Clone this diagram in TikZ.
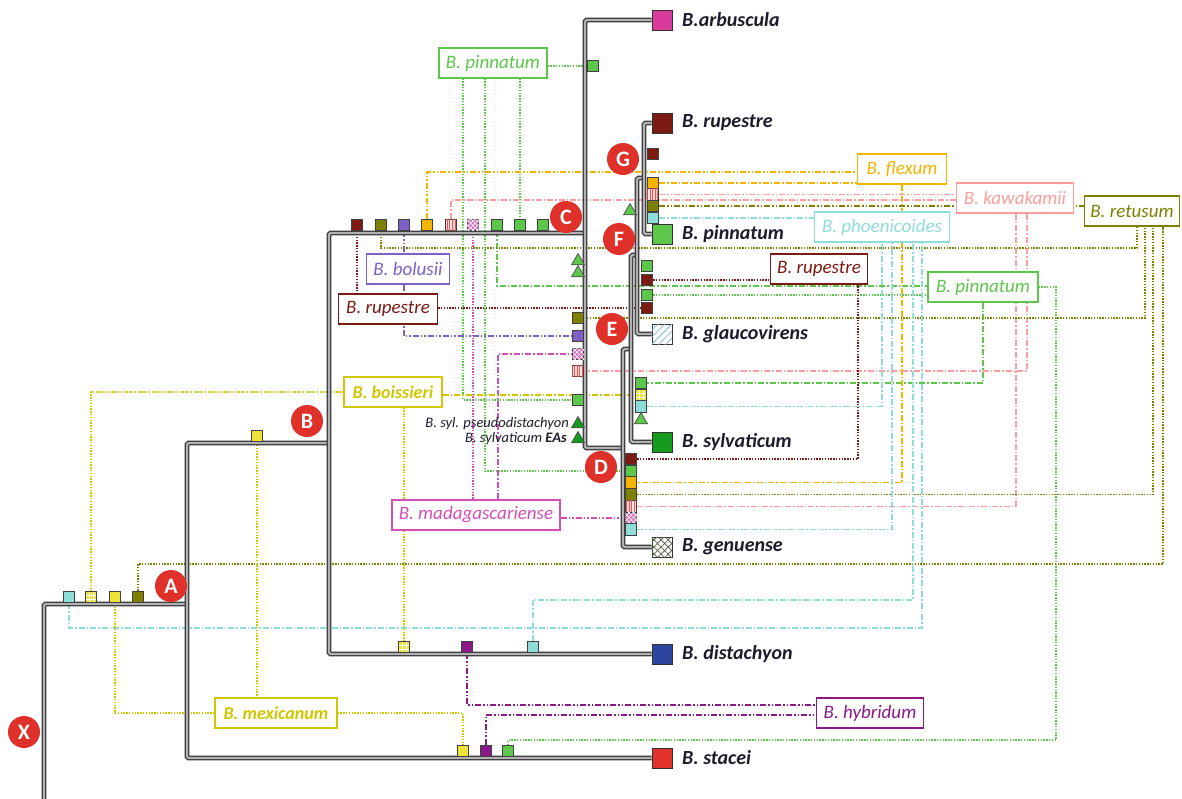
\documentclass[tikz,border=0pt]{standalone}
\usepackage{fontspec}
\setmainfont{Carlito}
\usetikzlibrary{patterns,patterns.meta,backgrounds,shapes.geometric}
\definecolor{cPink}{HTML}{FF9C9C}
\definecolor{cPinkF}{HTML}{FFE2E2}
\definecolor{cOrange}{HTML}{F5B400}
\definecolor{cOlive}{HTML}{808000}
\definecolor{cCyan}{HTML}{8EDDD8}
\definecolor{cGreen}{HTML}{5CC74A}
\definecolor{cDGreen}{HTML}{149B1E}
\definecolor{cRup}{HTML}{7D1A14}
\definecolor{cBol}{HTML}{7E60C6}
\definecolor{cMad}{HTML}{D34FB5}
\definecolor{cYel}{HTML}{D2C600}
\definecolor{cYelF}{HTML}{EEE33A}
\definecolor{cHyb}{HTML}{8B1A88}
\definecolor{cArb}{HTML}{D93A9C}
\definecolor{cDis}{HTML}{2E45A0}
\definecolor{cSta}{HTML}{E0312A}
\definecolor{cNode}{HTML}{E0302A}
\definecolor{cTxt}{HTML}{1C1C2C}
\definecolor{cGla}{HTML}{7FB2E0}
\definecolor{cGen}{HTML}{5E6B50}
\tikzset{
 br/.style={draw=black!80, line width=1.2pt, double=black!30, double distance=2.4pt, rounded corners=1.5pt},
 tip/.style={draw=black!80, line width=1pt, minimum size=20pt, inner sep=0pt, fill=#1},
 mk/.style={draw=black!75, line width=0.8pt, minimum size=11.5pt, inner sep=0pt, fill=#1},
 mkpink/.style={mk=cPinkF, postaction={pattern={Lines[angle=90,distance=2.6pt,line width=0.9pt]}, pattern color=red!70}},
 mkmad/.style={mk=cMad!85, postaction={pattern={Hatch[angle=45,distance=3.2pt,line width=0.6pt]}, pattern color=white}},
 mkyg/.style={mk=cYelF, path picture={
   \draw[white, line width=0.6pt]
     ([xshift=-2pt]path picture bounding box.north) -- ([xshift=-2pt]path picture bounding box.south)
     ([xshift=2pt]path picture bounding box.north) -- ([xshift=2pt]path picture bounding box.south)
     ([yshift=1.8pt]path picture bounding box.west) -- ([yshift=1.8pt]path picture bounding box.east)
     ([yshift=-1.8pt]path picture bounding box.west) -- ([yshift=-1.8pt]path picture bounding box.east);}},
 tri/.style={regular polygon, regular polygon sides=3, draw=black!70, line width=0.7pt, minimum size=15pt, inner sep=0pt, fill=#1},
 taxon/.style={anchor=west, font=\fontsize{20}{20}\selectfont\bfseries\itshape, text=cTxt, inner sep=0pt},
 lbox/.style={draw=#1, text=#1, fill=white, line width=1.3pt, minimum height=30pt, inner sep=0pt, font=\fontsize{19}{19}\selectfont\itshape},
 nd/.style={circle, fill=cNode, text=white, minimum size=32pt, inner sep=0pt, font=\fontsize{22}{22}\selectfont\bfseries},
 dt/.style={draw=#1, line width=1.3pt, dash pattern=on 1.4pt off 1.4pt},
 dd/.style={draw=#1, line width=1.6pt, dash pattern=on 6pt off 2pt on 1.5pt off 2pt},
 ddd/.style={draw=#1, line width=1.6pt, dash pattern=on 6pt off 2pt on 1.5pt off 2pt on 1.5pt off 2pt},
 small/.style={anchor=east, inner sep=0pt, text=cTxt, font=\fontsize{14.5}{14.5}\selectfont\itshape},
}
\begin{document}
\begin{tikzpicture}[x=1pt,y=-1pt]
\useasboundingbox (0,0) rectangle (1182,798);
\begin{scope}[on background layer]
\fill[white] (0,0) rectangle (1182,798);
\end{scope}

% ---------- tips ----------
\node[tip=cArb] (tArb) at (662,20) {};
\node[tip=cRup] (tRup) at (662,123) {};
\node[tip=cGreen] (tPin) at (662,234) {};
\node[tip=white, postaction={pattern={Lines[angle=45,distance=5pt,line width=0.8pt]}, pattern color=cGla}] (tGla) at (662,334) {};
\node[tip=cDGreen] (tSyl) at (662,442) {};
\node[tip=white, postaction={pattern={Hatch[angle=45,distance=5pt,line width=0.8pt]}, pattern color=cGen}] (tGen) at (662,547) {};
\node[tip=cDis] (tDis) at (662,654) {};
\node[tip=cSta] (tSta) at (662,758) {};
\node[taxon] (lArb) at (682,20) {B.arbuscula};
\node[taxon] (lRup) at (682,123) {B. rupestre};
\node[taxon] (lPin) at (682,234) {B. pinnatum};
\node[taxon] (lGla) at (682,334) {B. glaucovirens};
\node[taxon] (lSyl) at (682,442) {B. sylvaticum};
\node[taxon] (lGen) at (682,547) {B. genuense};
\node[taxon] (lDis) at (682,654) {B. distachyon};
\node[taxon] (lSta) at (682,758) {B. stacei};

% ---------- internal nodes ----------
\coordinate (nA) at (187,604);
\coordinate (nB) at (329,443);
\coordinate (nC) at (585,233);
\coordinate (nD) at (623,448);
\coordinate (nE) at (631,349);
\coordinate (nF) at (637,255);
\coordinate (nG) at (644,178);
\coordinate (root) at (44,800);

% ---------- markers ----------
\node[mk=cCyan] (r1) at (69,597) {};
\node[mkyg] (r2) at (91,597) {};
\node[mk=cYelF] (r3) at (115,597) {};
\node[mk=cOlive] (r4) at (138,597) {};
\node[mk=cYelF] (ab1) at (257,436) {};
\node[mk=cRup] (bc1) at (357,225) {};
\node[mk=cOlive] (bc2) at (381,225) {};
\node[mk=cBol] (bc3) at (404,225) {};
\node[mk=cOrange] (bc4) at (427,225) {};
\node[mkpink] (bc5) at (451,225) {};
\node[mkmad] (bc6) at (473,225) {};
\node[mk=cGreen] (bc7) at (497,225) {};
\node[mk=cGreen] (bc8) at (520,225) {};
\node[mk=cGreen] (bc9) at (543,225) {};
\node[mk=cGreen] (arb1) at (593,66) {};
\node[tri=cGreen] (ct1) at (578,261) {};
\node[tri=cGreen] (ct2) at (578,273) {};
\node[mk=cOlive] (c1) at (578,318) {};
\node[mk=cBol] (c2) at (578,336) {};
\node[mkmad] (c3) at (578,354) {};
\node[mkpink] (c4) at (578,371) {};
\node[mk=cGreen] (c5) at (578,400) {};
\node[tri=cDGreen] (ct3) at (578,424) {};
\node[tri=cDGreen] (ct4) at (578,439) {};
\node[small] (lPse) at (569,424) {B. syl. pseudodistachyon};
\node[small] (lEAs) at (567,439) {B. sylvaticum \textbf{EAs}};
\node[mk=cRup] (g0) at (653,154) {};
\node[mk=cOrange] (g1) at (653,183) {};
\node[mkpink] (g2) at (653,194.5) {};
\node[mk=cOlive] (g3) at (653,206) {};
\node[mk=cCyan] (g4) at (653,218) {};
\node[tri=cGreen] (gt) at (630,211) {};
\node[mk=cGreen] (f1) at (647,266) {};
\node[mk=cRup] (f2) at (647,280) {};
\node[mk=cGreen] (f3) at (647,295) {};
\node[mk=cRup] (f4) at (647,308) {};
\node[mk=cGreen] (e1) at (641,383) {};
\node[mkyg] (e2) at (641,395) {};
\node[mk=cCyan] (e3) at (641,406.5) {};
\node[tri=cGreen] (et) at (641,420) {};
\node[mk=cRup] (d1) at (631,459) {};
\node[mk=cGreen] (d2) at (631,471) {};
\node[mk=cOrange] (d3) at (631,482.5) {};
\node[mk=cOlive] (d4) at (631,494.5) {};
\node[mkpink] (d5) at (631,506.5) {};
\node[mkmad] (d6) at (631,518) {};
\node[mk=cCyan] (d7) at (631,529.5) {};
\node[mkyg] (s1) at (404,647) {};
\node[mk=cHyb] (s2) at (467,647) {};
\node[mk=cCyan] (s3) at (533,647) {};
\node[mk=cYelF] (t1) at (463,751) {};
\node[mk=cHyb] (t2) at (486,751) {};
\node[mk=cGreen] (t3) at (508,751) {};

% ---------- label boxes ----------
\node[lbox=cGreen, minimum width=108pt] (pinT) at (493,63) {B. pinnatum};
\node[lbox=cOrange, minimum width=89pt] (flex) at (902,169) {B. flexum};
\node[lbox=cPink, minimum width=117pt] (kaw) at (1015,198) {B. kawakamii};
\node[lbox=cOlive, minimum width=95pt] (ret) at (1132,211) {B. retusum};
\node[lbox=cCyan, minimum width=135pt] (pho) at (882,227) {B. phoenicoides};
\node[lbox=cRup, minimum width=97pt] (rupR) at (819,269) {B. rupestre};
\node[lbox=cGreen, minimum width=110pt] (pinR) at (983,287) {B. pinnatum};
\node[lbox=cBol, minimum width=83pt] (bol) at (408,269) {B. bolusii};
\node[lbox=cRup, minimum width=99pt] (rupL) at (388,309) {B. rupestre};
\node[lbox=cYel, minimum width=98pt, font=\fontsize{18}{18}\selectfont\bfseries\itshape] (boi) at (393,392) {B. boissieri};
\node[lbox=cMad, minimum width=168pt] (mad) at (476,515) {B. madagascariense};
\node[lbox=cYel, minimum width=122pt, font=\fontsize{18}{18}\selectfont\bfseries\itshape] (mex) at (276,713) {B. mexicanum};
\node[lbox=cHyb, minimum width=107pt] (hyb) at (870,713) {B. hybridum};

% ---------- node letters ----------
\node[nd] (cX) at (24,732) {X};
\node[nd] (cA) at (171,586) {A};
\node[nd] (cB) at (307,421) {B};
\node[nd] (cC) at (566,217) {C};
\node[nd] (cG) at (623,159) {G};
\node[nd] (cF) at (619,239) {F};
\node[nd] (cE) at (612,329) {E};
\node[nd] (cD) at (601,467) {D};

% ---------- connectors and tree ----------
\begin{scope}[on background layer]
% pinnatum (top)
\draw[dt=cGreen] (pinT.east |- arb1) -- (arb1.west);
\draw[dt=cGreen] (pinT.south -| 463,0) |- (c5.west);
\draw[dt=cGreen] (pinT.south -| 485,0) |- (d2.west);
\draw[dt=cGreen] (pinT.south -| bc8) -- (bc8.north);
% pinnatum (right)
\draw[dd=cGreen] (bc7.south) |- ([yshift=1pt]pinR.west);
\draw[dt=cGreen] (f3.east) -- (pinR.west |- f3);
\draw[dt=cGreen] (pinR.east) -| (1056,740) -| (t3.north);
\draw[dd=cGreen] (pinR.south) |- (e1.east);
% flexum
\draw[ddd=cOrange] (bc4.north) |- (flex.west |- 0,172);
\draw[dd=cOrange] (g1.east) -- (flex.west |- g1);
\draw[dd=cOrange] (flex.south) |- (d3.east);
% kawakamii
\draw[dd=cPink] (bc5.north) |- (kaw.west |- 0,200);
\draw[ddd=cPink] (g2.east) -- (kaw.west |- g2);
\draw[dd=cPink] (kaw.south -| 1027,0) |- (c4.east);
\draw[dd=cPink] (kaw.south -| 1016,0) |- (d5.east);
% retusum
\draw[ddd=cOlive, line width=2pt] (g3.east) -- (ret.west |- g3);
\draw[dt=cOlive] (bc2.south) |- (1137,248) -- (ret.south -| 1137,0);
\draw[dt=cOlive] (c1.east) -| (ret.south -| 1145,0);
\draw[dt=cOlive] (d4.east) -| (ret.south -| 1153,0);
\draw[dt=cOlive] (r4.north) |- (1163,564) -- (ret.south -| 1163,0);
% phoenicoides
\draw[dd=cCyan] (g4.east) -- (pho.west |- g4);
\draw[dd=cCyan] (e3.east) -| (pho.south -| 882,0);
\draw[dd=cCyan] (d7.east) -| (pho.south -| 892,0);
\draw[dd=cCyan] (s3.north) |- (913,600) -- (pho.south -| 913,0);
\draw[dd=cCyan] (r1.south) |- (922,628) -- (pho.south -| 922,0);
% rupestre
\draw[dt=cRup] (f2.east) -- (rupR.west |- f2);
\draw[dt=cRup] (d1.east) -| (rupR.south -| 858,0);
\draw[dt=cRup] (rupL.east |- f4) -- (f4.west);
\draw[dt=cRup] (bc1.south) -- (rupL.north -| bc1);
% bolusii
\draw[ddd=cBol] (bc3.south) -- (bol.north -| bc3);
\draw[ddd=cBol] (bol.south -| bc3) |- (c2.west);
% madagascariense
\draw[ddd=cMad] (mad.east |- d6) -- (d6.west);
\draw[dt=cMad] (bc6.south) -- (mad.north -| bc6);
\draw[dd=cMad] (mad.north -| 498,0) |- (c3.west);
% boissieri
\draw[dd=cYel] (boi.east |- e2) -- (e2.west);
\draw[dt=cYel] (boi.west) -| (r2.north);
\draw[dt=cYel] (boi.south -| s1) -- (s1.north);
% mexicanum
\draw[dt=cYel] (ab1.south) -- (mex.north -| ab1);
\draw[dt=cYel] (mex.west) -| (r3.south);
\draw[dt=cYel] (mex.east) -| (t1.north);
% hybridum
\draw[ddd=cHyb] (s2.south) |- (hyb.west |- 0,705);
\draw[ddd=cHyb] (t2.north) |- (hyb.west |- 0,715);
% tree
\draw[br] (root) |- (nA);
\draw[br] (nB) -| (nA) |- (tSta.west);
\draw[br] (nC) -| (nB) |- (tDis.west);
\draw[br] (tArb.west) -| (nC) |- (nD);
\draw[br] (nE) -| (nD) |- (tGen.west);
\draw[br] (nF) -| (nE) |- (tSyl.west);
\draw[br] (nG) -| (nF) |- (tGla.west);
\draw[br] (tRup.west) -| (nG) |- (tPin.west);
\end{scope}
\end{tikzpicture}
\end{document}
